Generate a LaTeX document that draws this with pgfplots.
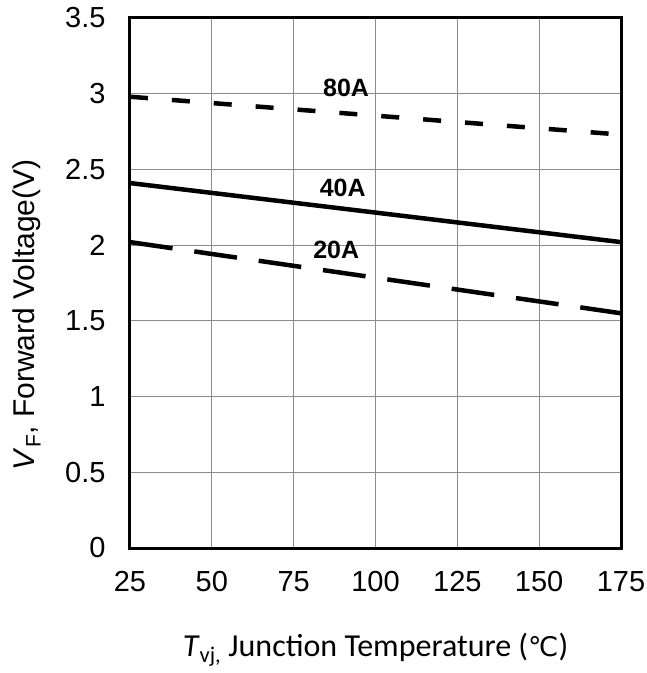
\documentclass[border=0pt]{standalone}
\usepackage{pgfplots}
\pgfplotsset{compat=1.18}
\usepackage{fontspec}
\setmainfont{Liberation Sans}
\newfontfamily\calibri{Carlito}
\newfontfamily\dejavu{DejaVu Sans}
\begin{document}
\begin{tikzpicture}
\useasboundingbox (-130bp,-125bp) rectangle (517bp,548bp);
\begin{axis}[
  at={(0,0)}, anchor=south west,
  scale only axis, width=491bp, height=530bp,
  xmin=25, xmax=175, ymin=0, ymax=3.5,
  xtick={25,50,...,175}, ytick={0,0.5,...,3.5},
  yticklabels={0,0.5,1,1.5,2,2.5,3,3.5},
  /pgf/number format/assume math mode=true,
  tick label style={font=\fontsize{29bp}{33bp}\selectfont},
  yticklabel style={xshift=-21bp},
  xticklabel style={yshift=-20bp},
  major tick length=0pt,
  grid=major,
  grid style={line width=1bp, color=black!45},
  axis line style={line width=3bp},
  xlabel={{\calibri\fontsize{32bp}{36bp}\selectfont\textit{T}\textsubscript{vj,} Junction Temperature ({\dejavu\fontsize{27bp}{32bp}\selectfont\symbol{"2103}})}},
  ylabel={{\fontsize{30bp}{34bp}\selectfont\textit{V}\textsubscript{F}, Forward Voltage(V)}},
  xlabel style={at={(axis description cs:0.5,-0.192)}, anchor=center},
  ylabel style={at={(axis description cs:-0.21,0.44)}, anchor=center},
]
\addplot[black, line width=4.5bp, dash pattern=on 18bp off 24bp] coordinates {(25,2.98) (175,2.73)};
\addplot[black, line width=4.5bp] coordinates {(25,2.41) (175,2.02)};
\addplot[black, line width=4.5bp, dash pattern=on 43bp off 22bp] coordinates {(25,2.02) (175,1.55)};
\node[font=\bfseries\fontsize{25bp}{29bp}\selectfont] at (axis cs:91,3.04) {80A};
\node[font=\bfseries\fontsize{25bp}{29bp}\selectfont] at (axis cs:90,2.38) {40A};
\node[font=\bfseries\fontsize{25bp}{29bp}\selectfont] at (axis cs:88,1.97) {20A};
\end{axis}
\end{tikzpicture}
\end{document}
